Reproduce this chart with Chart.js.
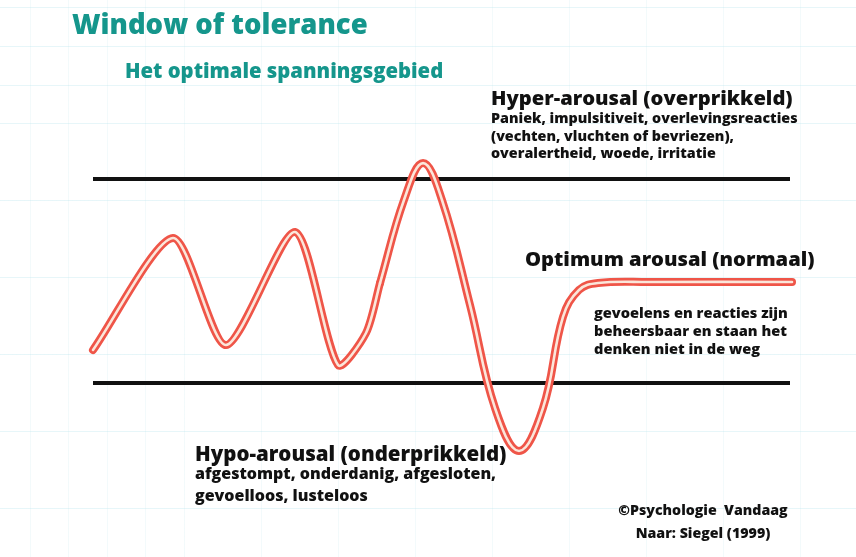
<!DOCTYPE html>
<html>
<head>
<meta charset="utf-8">
<script src="https://cdn.jsdelivr.net/npm/chart.js@4"></script>
<style>
  html, body { margin: 0; padding: 0; background: #ffffff; }
  #wrap {
    position: relative; width: 856px; height: 557px; overflow: hidden;
    background-color: #ffffff;
    background-image:
      repeating-linear-gradient(to bottom, transparent 0px, transparent 7.5px, rgba(175,225,235,0.3) 7.5px, rgba(175,225,235,0.3) 8.5px, transparent 8.5px, transparent 38.5px),
      repeating-linear-gradient(to right, transparent 0px, transparent 30px, rgba(200,232,238,0.22) 30px, rgba(200,232,238,0.22) 31px, transparent 31px, transparent 38.5px);
  }
  canvas { position: absolute; left: 0; top: 0; }
  .t { position: absolute; white-space: nowrap; font-family: "Open Sans", Lato, sans-serif; font-weight: 800; color: #111; }
  .teal { color: #15968c; }
  .h { font-size: 20.2px; line-height: 22px; }
</style>
</head>
<body>
<div id="wrap">
  <canvas id="c" width="856" height="557"></canvas>
  <div class="t teal" style="left:72px; top:8px; font-size:27.5px; line-height:32px;">Window of tolerance</div>
  <div class="t teal" style="left:125px; top:58px; font-size:20.3px; line-height:24px;">Het optimale spanningsgebied</div>

  <div class="t h" style="left:491px; top:86px;">Hyper-arousal (overprikkeld)</div>
  <div class="t" style="left:491px; top:109px; font-size:14.3px; line-height:17.5px;">Paniek, impulsitiveit, overlevingsreacties<br>(vechten, vluchten of bevriezen),<br>overalertheid, woede, irritatie</div>

  <div class="t h" style="left:525px; top:247px;">Optimum arousal (normaal)</div>
  <div class="t" style="left:594px; top:303px; font-size:14.6px; line-height:18px;">gevoelens en reacties zijn<br>beheersbaar en staan het<br>denken niet in de weg</div>

  <div class="t h" style="left:195px; top:442px; font-size:20.5px;">Hypo-arousal (onderprikkeld)</div>
  <div class="t" style="left:195px; top:462px; font-size:16px; line-height:22px;">afgestompt, onderdanig, afgesloten,<br>gevoelloos, lusteloos</div>

  <div class="t" style="left:558px; width:290px; text-align:center; top:498px; font-size:14.2px; line-height:23px;">©Psychologie &nbsp;Vandaag<br>Naar: Siegel (1999)</div>
</div>
<script>
// time axis (0 = start, 100 = end of the window lines)
const timeX = [0, 11.48, 19.08, 28.98, 35.15, 39.17, 41.18, 44.62, 47.35, 50.07, 54.09, 57.68, 61.12, 64.56, 67.43, 69.73, 72.45, 79.91, 100.29];
// arousal level (0 = lower limit of the window, 10 = upper limit)
const arousalY = [1.62, 7.11, 1.86, 7.40, 0.88, 2.45, 4.90, 8.97, 10.78, 8.97, 3.82, -1.23, -3.33, -1.23, 3.24, 4.56, 4.90, 4.95, 4.95];
// index where the small oscillations end and the large swing begins
const phaseSplit = 6;
// window of tolerance limits
const windowRange = [0, 100];
const upperLimit = 10;
const lowerLimit = 0;

const curve = timeX.map((x, i) => ({ x: x, y: arousalY[i] }));
const smallWaves = curve.slice(0, phaseSplit + 1);
const bigSwing = curve.slice(phaseSplit);
const upperLine = windowRange.map(x => ({ x: x, y: upperLimit }));
const lowerLine = windowRange.map(x => ({ x: x, y: lowerLimit }));

const base = { pointRadius: 0, borderCapStyle: 'round', borderJoinStyle: 'round', clip: false };
const inner = { borderColor: '#fbe6da', borderWidth: 2.6, order: 0 };
const outer = { borderColor: '#ef5548', borderWidth: 8, order: 1 };

new Chart(document.getElementById('c'), {
  type: 'line',
  data: {
    datasets: [
      Object.assign({ data: smallWaves, tension: 0.25 }, base, inner),
      Object.assign({ data: bigSwing, tension: 0.4 }, base, inner),
      Object.assign({ data: smallWaves, tension: 0.25 }, base, outer),
      Object.assign({ data: bigSwing, tension: 0.4 }, base, outer),
      { data: upperLine, borderColor: '#111111', borderWidth: 4, pointRadius: 0, clip: false, order: 2 },
      { data: lowerLine, borderColor: '#111111', borderWidth: 4, pointRadius: 0, clip: false, order: 2 }
    ]
  },
  options: {
    responsive: false,
    animation: false,
    devicePixelRatio: 1,
    elements: { line: { capBezierPoints: false } },
    layout: { padding: { left: 93, right: 66, top: 179, bottom: 174 } },
    plugins: { legend: { display: false }, tooltip: { enabled: false }, title: { display: false } },
    scales: {
      x: { type: 'linear', min: 0, max: 100, display: false },
      y: { type: 'linear', min: 0, max: 10, display: false }
    }
  }
});
</script>
</body>
</html>
